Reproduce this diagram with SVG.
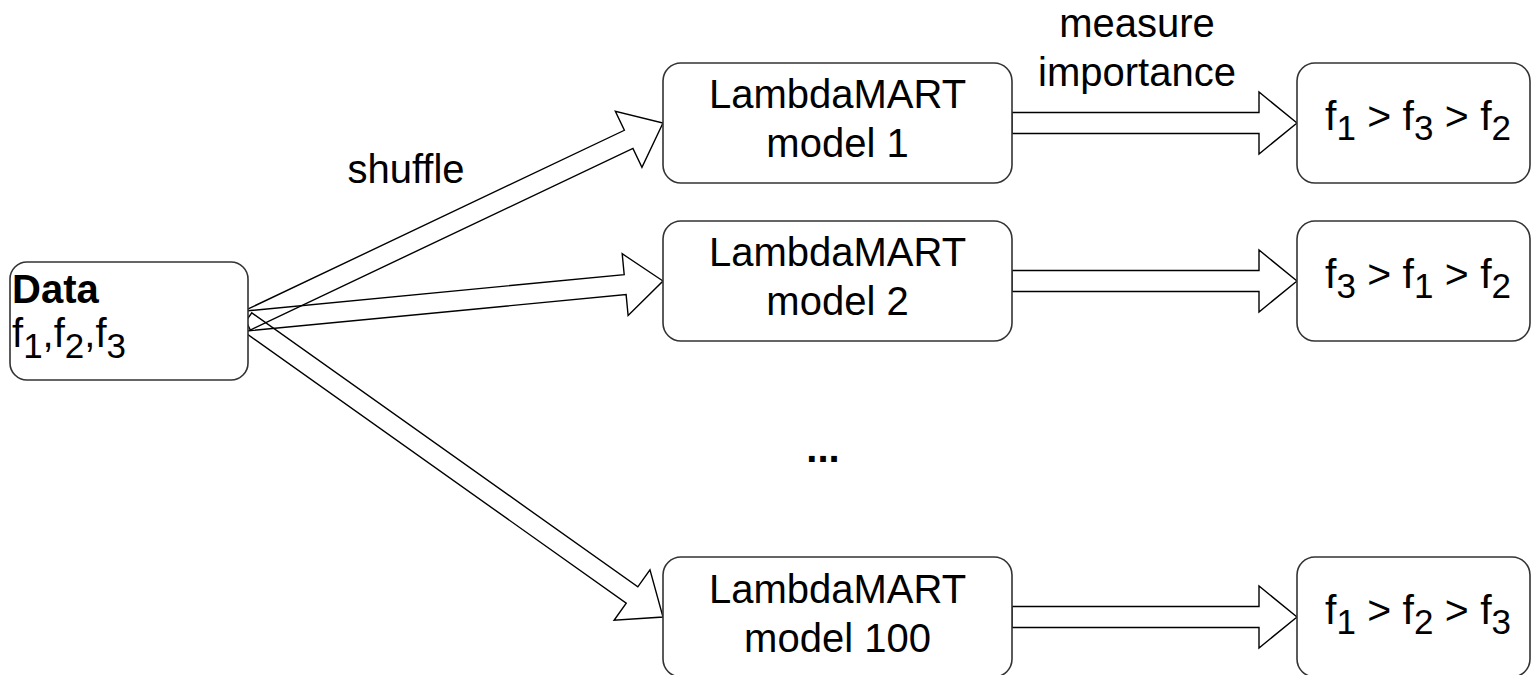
<svg xmlns="http://www.w3.org/2000/svg" width="1532" height="675" viewBox="0 0 1532 675">
  <style>
    .box { fill: #ffffff; stroke: #333333; stroke-width: 1.6; }
    .arrow { fill: #ffffff; stroke: #000000; stroke-width: 1.4; stroke-linejoin: miter; }
    .open { fill: none; }
    text { font-family: "Liberation Sans", Arial, Helvetica, sans-serif; font-size: 40px; fill: #000000; }
    .c { text-anchor: middle; }
    .b { font-weight: bold; }
    .r { font-size: 41px; }
    .sub { font-size: 35px; }
  </style>
  <rect width="1532" height="675" fill="#ffffff"/>

  <!-- connectors: wide block arrows -->
  <g id="connectors">
    <polygon class="arrow open" transform="translate(246,321) rotate(-25.40)" points="0,-10 423.6,-10 423.6,-31 461.6,0 423.6,31 423.6,10 0,10"/>
    <polygon class="arrow open" transform="translate(246,321) rotate(-5.48)" points="0,-10 380.9,-10 380.9,-31 418.9,0 380.9,31 380.9,10 0,10"/>
    <polygon class="arrow open" transform="translate(246,321) rotate(35.37)" points="0,-10 473.4,-10 473.4,-31 511.4,0 473.4,31 473.4,10 0,10"/>
    <polygon class="arrow" points="1012,112.5 1259,112.5 1259,92 1297,123 1259,154 1259,133.5 1012,133.5"/>
    <polygon class="arrow" points="1012,270.5 1259,270.5 1259,250 1297,281 1259,312 1259,291.5 1012,291.5"/>
    <polygon class="arrow" points="1012,606.5 1259,606.5 1259,586 1297,617 1259,648 1259,627.5 1012,627.5"/>
    <text class="c" x="406" y="183">shuffle</text>
    <text class="c" x="1137" y="37">measure</text>
    <text class="c" x="1137" y="86">importance</text>
  </g>

  <g id="data">
    <rect class="box" x="10" y="262" width="238" height="118" rx="17" ry="17"/>
    <text class="b" x="12" y="303">Data</text>
    <text x="12" y="347">f<tspan class="sub" dy="11">1</tspan><tspan dy="-11">,f</tspan><tspan class="sub" dy="11">2</tspan><tspan dy="-11">,f</tspan><tspan class="sub" dy="11">3</tspan></text>
  </g>

  <g id="model1">
    <rect class="box" x="663" y="63" width="349" height="120" rx="18" ry="18"/>
    <text class="c" x="837.5" y="108">LambdaMART</text>
    <text class="c" x="837.5" y="157">model 1</text>
  </g>

  <g id="model2">
    <rect class="box" x="663" y="221" width="349" height="120" rx="18" ry="18"/>
    <text class="c" x="837.5" y="266">LambdaMART</text>
    <text class="c" x="837.5" y="315">model 2</text>
  </g>

  <g id="ellipsis">
    <text class="c b" x="823" y="462">...</text>
  </g>

  <g id="model100">
    <rect class="box" x="663" y="557" width="349" height="120" rx="18" ry="18"/>
    <text class="c" x="837.5" y="603">LambdaMART</text>
    <text class="c" x="837.5" y="652">model 100</text>
  </g>

  <g id="rank1">
    <rect class="box" x="1297" y="63" width="233" height="120" rx="18" ry="18"/>
    <text class="c r" x="1418" y="130">f<tspan class="sub" dy="10">1</tspan><tspan dy="-10"> &gt; f</tspan><tspan class="sub" dy="10">3</tspan><tspan dy="-10"> &gt; f</tspan><tspan class="sub" dy="10">2</tspan></text>
  </g>

  <g id="rank2">
    <rect class="box" x="1297" y="221" width="233" height="120" rx="18" ry="18"/>
    <text class="c r" x="1418" y="288">f<tspan class="sub" dy="10">3</tspan><tspan dy="-10"> &gt; f</tspan><tspan class="sub" dy="10">1</tspan><tspan dy="-10"> &gt; f</tspan><tspan class="sub" dy="10">2</tspan></text>
  </g>

  <g id="rank3">
    <rect class="box" x="1297" y="557" width="233" height="120" rx="18" ry="18"/>
    <text class="c r" x="1418" y="624">f<tspan class="sub" dy="10">1</tspan><tspan dy="-10"> &gt; f</tspan><tspan class="sub" dy="10">2</tspan><tspan dy="-10"> &gt; f</tspan><tspan class="sub" dy="10">3</tspan></text>
  </g>
</svg>
